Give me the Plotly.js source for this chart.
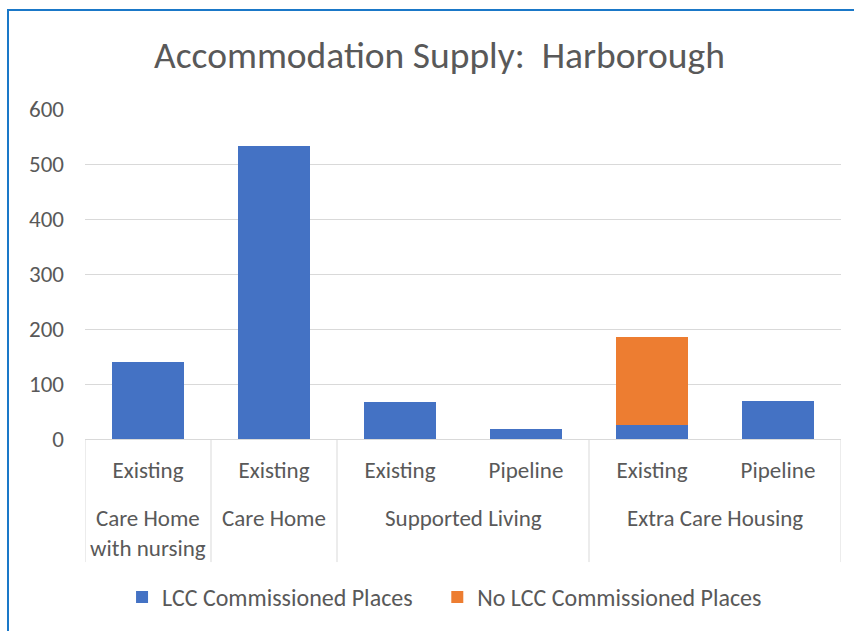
<!DOCTYPE html>
<html>
<head>
<meta charset="utf-8">
<script src="https://cdn.plot.ly/plotly-3.0.1.min.js"></script>
<style>
  html, body { margin: 0; padding: 0; background: #fff; }
  #frame { position: absolute; left: 7px; top: 9px; width: 900px; height: 700px;
           border: 2px solid #1a78c8; box-sizing: border-box; }
  #chart { position: absolute; left: 0; top: 0; width: 854px; height: 631px; }
</style>
</head>
<body>
<div id="frame"></div>
<div id="chart"></div>
<script>
const groups = ["Care Home<br>with nursing", "Care Home", "Supported Living", "Supported Living", "Extra Care Housing", "Extra Care Housing"];
const stages = ["Existing", "Existing", "Existing", "Pipeline", "Existing", "Pipeline"];
const lccPlaces = [140, 533, 68, 18, 26, 69];
const noLccPlaces = [0, 0, 0, 0, 160, 0];
const seriesNames = ["LCC Commissioned Places", "No LCC Commissioned Places"];

const FONT = "Carlito, Lato, 'Noto Sans', sans-serif";
const TXT = "#595959";
const GRID = "#D9D9D9";

const idx = stages.map((_, i) => i);

const data = [
  { type: "bar", x: idx, y: lccPlaces, name: seriesNames[0],
    marker: { color: "#4472C4" }, hoverinfo: "y", legend: "legend" },
  { type: "bar", x: idx, y: noLccPlaces, name: seriesNames[1],
    marker: { color: "#ED7D31" }, hoverinfo: "y", legend: "legend2" }
];

// group spans derived from the groups array
const spans = [];
groups.forEach((g, i) => {
  const last = spans[spans.length - 1];
  if (last && last.name === g) last.end = i; else spans.push({ name: g, start: i, end: i });
});

const annotations = spans.map(s => ({
  text: s.name, x: (s.start + s.end) / 2, xref: "x", y: -0.192, yref: "paper",
  yanchor: "top", xanchor: "center", showarrow: false,
  font: { family: FONT, size: 23, color: TXT }
}));

const boundaries = [spans[0].start - 0.5].concat(spans.map(s => s.end + 0.5));
const shapes = boundaries.map(b => ({
  type: "line", xref: "x", yref: "paper", x0: b, x1: b, y0: 0, y1: -0.373,
  line: { color: GRID, width: 1 }
}));

const legendStyle = { orientation: "h", xanchor: "left", y: -0.48, yanchor: "middle",
  font: { family: FONT, size: 24, color: TXT }, itemwidth: 30, bgcolor: "rgba(0,0,0,0)" };

const layout = {
  width: 854, height: 631,
  paper_bgcolor: "rgba(0,0,0,0)", plot_bgcolor: "rgba(0,0,0,0)",
  margin: { l: 85, r: 13, t: 109, b: 192, autoexpand: false },
  barmode: "stack", bargap: 0.43,
  font: { family: FONT, color: TXT, size: 23 },
  title: { text: "Accommodation Supply:  Harborough", font: { family: FONT, size: 37.5, color: TXT },
           x: 0.5146, xanchor: "center", y: 0.913, yanchor: "middle" },
  xaxis: { range: [-0.5, stages.length - 0.5], tickvals: idx, ticktext: stages,
           showline: true, linecolor: GRID, linewidth: 1, showgrid: false, zeroline: false,
           ticks: "", ticklabelstandoff: 10,
           tickfont: { family: FONT, size: 23, color: TXT } },
  yaxis: { range: [0, 600], dtick: 100, showgrid: true, gridcolor: GRID, gridwidth: 1,
           zeroline: false, showline: false, ticks: "", ticklabelstandoff: 20,
           tickfont: { family: FONT, size: 23, color: TXT } },
  legend: Object.assign({}, legendStyle, { x: 0.049 }),
  legend2: Object.assign({}, legendStyle, { x: 0.466 }),
  annotations: annotations,
  shapes: shapes,
  showlegend: true
};

Plotly.newPlot("chart", data, layout, { displayModeBar: false, staticPlot: true });
</script>
</body>
</html>
